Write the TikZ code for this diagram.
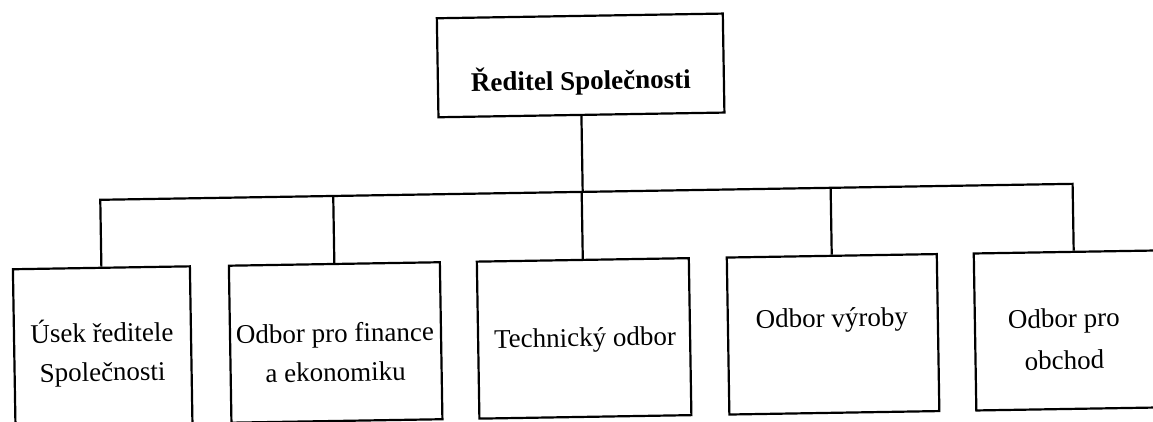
\documentclass[tikz,border=0pt]{standalone}
\usepackage{fontspec}
\setmainfont{Liberation Serif}
\begin{document}
\begin{tikzpicture}[x=1pt,y=-1pt,
  line width=2.2pt,
  orgbox/.style={draw=black, line width=2.2pt, rectangle, inner sep=0pt},
  orgtext/.style={inner sep=0pt, align=center, anchor=center, font=\fontsize{27}{39}\selectfont},
  link/.style={draw=black, line width=2.2pt}]
\useasboundingbox (0,0) rectangle (1153,421);
\begin{scope}[rotate around={0.94:(576,210)}, transform shape]
  % top box
  \node[orgbox, minimum width=286pt, minimum height=99pt] (top) at (583,65.5) {};
  \node[orgtext, font=\fontsize{27}{39}\selectfont\bfseries] (t0) at (583,82) {\strut Ředitel Společnosti};
  % bus coordinate
  \coordinate (busL) at (100,192);
  % department boxes
  \node[orgbox, minimum width=177pt, minimum height=190pt] (b1) at (100.5,355) {};
  \node[orgbox, minimum width=211pt, minimum height=157pt] (b2) at (333.5,338.5) {};
  \node[orgbox, minimum width=212pt, minimum height=157pt] (b3) at (582,338.5) {};
  \node[orgbox, minimum width=210pt, minimum height=157pt] (b4) at (831,338.5) {};
  \node[orgbox, minimum width=200pt, minimum height=157pt] (b5) at (1073,338.5) {};
  % texts
  \node[orgtext] (t1) at (100,346) {\strut Úsek ředitele\\\strut Společnosti};
  \node[orgtext] (t2) at (333,350) {\strut Odbor pro finance\\\strut a ekonomiku};
  \node[orgtext] (t3) at (583,339) {\strut Technický odbor};
  \node[orgtext, font=\fontsize{27}{41}\selectfont] (t4) at (830,323) {\strut Odbor výroby};
  \node[orgtext, font=\fontsize{27}{42}\selectfont] (t5) at (1062,348) {\strut Odbor pro\\\strut obchod};
  % connectors
  \draw[link] (top.south) -- (top.south |- busL);
  \draw[link] (b1.north) -- (b1.north |- busL) -- (b5.north |- busL) -- (b5.north);
  \draw[link] (b2.north) -- (b2.north |- busL);
  \draw[link] (b3.north) -- (b3.north |- busL);
  \draw[link] (b4.north) -- (b4.north |- busL);
\end{scope}
\end{tikzpicture}
\end{document}
